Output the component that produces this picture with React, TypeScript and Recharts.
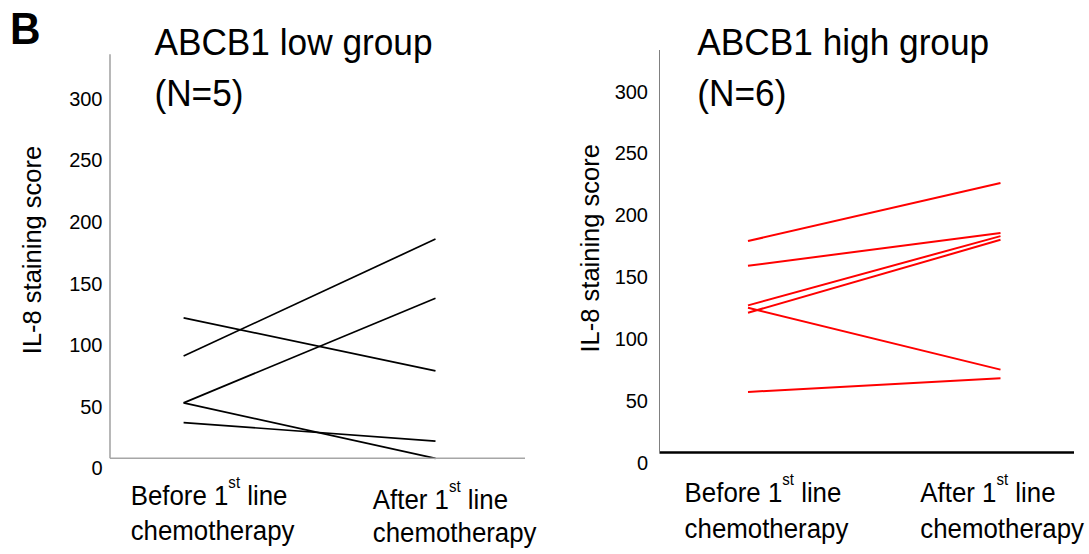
import { LineChart, Line, XAxis, YAxis } from "recharts";

const FONT = "'Liberation Sans', Arial, sans-serif";

const stages = ["Before", "After"];
const yTicks = [0, 50, 100, 150, 200, 250, 300];

// ABCB1 low group, one value per patient
const lowBefore = [83, 114, 45, 45, 29];
const lowAfter = [178, 71, 130, 0, 14];

// ABCB1 high group
const highBefore = [171, 151, 119, 113, 117, 49];
const highAfter = [218, 177.5, 175, 172, 67, 60];

function buildRows(before: number[], after: number[]) {
  return [before, after].map((vals, i) => {
    const row: Record<string, number | string> = { stage: stages[i] };
    vals.forEach((v, k) => {
      row["p" + k] = v;
    });
    return row;
  });
}

type TickOffset = { dx: number; dy1: number; dy2: number };

// the figure's text is a bit narrower than Arial, so squeeze it horizontally
const SQUEEZE = 0.94;

function StageTick(props: any) {
  const { x, y, payload, index, offsets } = props;
  const o: TickOffset = offsets[index] || offsets[0];
  return (
    <g transform={`translate(${x + o.dx}, ${y}) scale(${SQUEEZE}, 1)`}>
      <text x={0} y={o.dy1} fontSize={27.5} fontFamily={FONT} fill="#000">
        {payload.value + " 1"}
        <tspan dy={-17} fontSize={16}>
          st
        </tspan>
        <tspan dy={17}>{"\u00a0line"}</tspan>
      </text>
      <text x={0} y={o.dy2} fontSize={27.5} fontFamily={FONT} fill="#000">
        chemotherapy
      </text>
    </g>
  );
}

function ScoreTick(props: any) {
  const { x, y, payload } = props;
  return (
    <text x={x} y={y + 17} textAnchor="end" fontSize={20} fontFamily={FONT} fill="#000">
      {payload.value}
    </text>
  );
}

function Title(props: { x: number; y: number; size: number; bold?: boolean; text: string }) {
  return (
    <g transform={`translate(${props.x}, ${props.y}) scale(${SQUEEZE}, 1)`}>
      <text
        x={0}
        y={0}
        fontSize={props.size}
        fontWeight={props.bold ? "bold" : "normal"}
        fontFamily={FONT}
        fill="#000"
      >
        {props.text}
      </text>
    </g>
  );
}

interface PanelProps {
  left: number;
  width: number;
  before: number[];
  after: number[];
  color: string;
  strokeWidth: number;
  margin: { top: number; right: number; bottom: number; left: number };
  padding: { left: number; right: number };
  yMax: number;
  tickMargin: number;
  xAxisStroke: string;
  xAxisWidth: number;
  yAxisStroke: string;
  yAxisWidth: number;
  offsets: TickOffset[];
  labelX: number;
  labelY: number;
}

function Panel(p: PanelProps) {
  const rows = buildRows(p.before, p.after);
  return (
    <div style={{ position: "absolute", left: p.left, top: 0 }}>
      <LineChart width={p.width} height={554} data={rows} margin={p.margin}>
        <XAxis
          dataKey="stage"
          height={90}
          padding={p.padding}
          tickLine={false}
          tickSize={0}
          tickMargin={0}
          axisLine={{ stroke: p.xAxisStroke, strokeWidth: p.xAxisWidth }}
          tick={(tp: any) => <StageTick {...tp} offsets={p.offsets} />}
          interval={0}
        />
        <YAxis
          type="number"
          width={60}
          domain={[0, p.yMax]}
          ticks={yTicks}
          tickLine={false}
          tickSize={0}
          tickMargin={p.tickMargin}
          axisLine={{ stroke: p.yAxisStroke, strokeWidth: p.yAxisWidth }}
          tick={<ScoreTick />}
          interval={0}
          label={{
            content: () => (
              <text
                x={p.labelX}
                y={p.labelY}
                transform={`rotate(-90, ${p.labelX}, ${p.labelY})`}
                textAnchor="middle"
                dominantBaseline="central"
                fontSize={25.5}
                fontFamily={FONT}
                fill="#000"
              >
                IL-8 staining score
              </text>
            ),
          }}
        />
        {p.before.map((_, k) => (
          <Line
            key={k}
            type="linear"
            dataKey={"p" + k}
            stroke={p.color}
            strokeWidth={p.strokeWidth}
            dot={false}
            activeDot={false}
            isAnimationActive={false}
          />
        ))}
      </LineChart>
    </div>
  );
}

export default function App() {
  return (
    <div
      style={{
        position: "absolute",
        left: 0,
        top: 0,
        width: 1089,
        height: 554,
        background: "#fff",
        overflow: "hidden",
      }}
    >
      <Panel
        left={0}
        width={545}
        before={lowBefore}
        after={lowAfter}
        color="#000"
        strokeWidth={1.7}
        margin={{ top: 54.3, right: 20, bottom: 5.7, left: 50 }}
        padding={{ left: 73.6, right: 89.5 }}
        yMax={328}
        tickMargin={7.5}
        xAxisStroke="#a6a6a6"
        xAxisWidth={1.6}
        yAxisStroke="#a6a6a6"
        yAxisWidth={1.6}
        offsets={[
          { dx: -52.9, dy1: 46.7, dy2: 81.7 },
          { dx: -62.7, dy1: 51, dy2: 83.4 },
        ]}
        labelX={32}
        labelY={250}
      />
      <Panel
        left={545}
        width={544}
        before={highBefore}
        after={highAfter}
        color="#ff0000"
        strokeWidth={2}
        margin={{ top: 50, right: 15, bottom: 11.5, left: 54.5 }}
        padding={{ left: 88.5, right: 73.5 }}
        yMax={325.5}
        tickMargin={11.5}
        xAxisStroke="#000"
        xAxisWidth={2.5}
        yAxisStroke="#808080"
        yAxisWidth={1}
        offsets={[
          { dx: -63.4, dy1: 49.8, dy2: 85.8 },
          { dx: -80.2, dy1: 49.5, dy2: 85.5 },
        ]}
        labelX={45}
        labelY={248.3}
      />
      <svg
        width={1089}
        height={554}
        style={{ position: "absolute", left: 0, top: 0, pointerEvents: "none" }}
      >
        <Title x={10} y={44} size={45} bold text="B" />
        <Title x={154.4} y={54.5} size={37.5} text="ABCB1 low group" />
        <Title x={154.4} y={106} size={37.5} text="(N=5)" />
        <Title x={697.3} y={55} size={37.5} text="ABCB1 high group" />
        <Title x={697.3} y={106} size={37.5} text="(N=6)" />
      </svg>
    </div>
  );
}
